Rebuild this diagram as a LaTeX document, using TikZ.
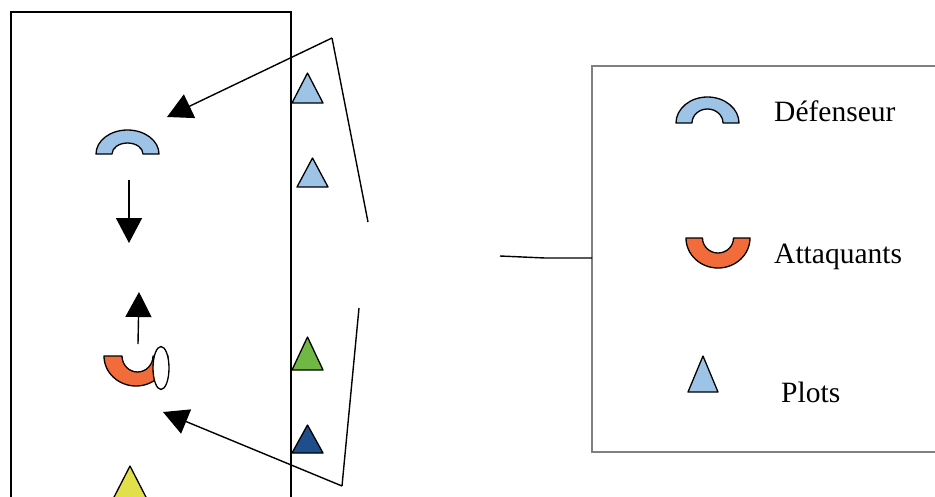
\documentclass[tikz,border=0pt]{standalone}
\usepackage{fontspec}
\setmainfont{Liberation Serif}
\usetikzlibrary{arrows.meta}
\definecolor{lblue}{HTML}{9DC3E6}
\definecolor{orng}{HTML}{F26B3A}
\definecolor{grn}{HTML}{70B844}
\definecolor{dblue}{HTML}{1F4E8C}
\definecolor{yel}{HTML}{E2E04A}
\definecolor{boxgray}{HTML}{808080}
\tikzset{
  shp/.style={draw=black,line width=1.3pt,line join=round},
  conn/.style={draw=black,line width=1.4pt},
  arr/.style={conn,-{Triangle[width=26pt,length=25pt]}},
  lbl/.style={anchor=base west,inner sep=0pt,font=\fontsize{29.5}{34}\selectfont},
}
\begin{document}
\begin{tikzpicture}[x=1pt,y=-1pt]
\useasboundingbox (0,0) rectangle (935,496);
\clip (0,0) rectangle (935,496);
\fill[white] (0,0) rectangle (935,496);
% field
\draw[conn] (11,12) rectangle (291,510);
% legend box
\draw[draw=boxgray,line width=1.4pt] (592,66) rectangle (950,452);
% defender
\path[shp,fill=lblue] (96,154) arc[start angle=180,end angle=360,x radius=31.5,y radius=24] -- (143,154) arc[start angle=0,end angle=-180,x radius=15.5,y radius=11] -- cycle;
% arrows between players
\coordinate (d1) at (129,180);
\coordinate (d2) at (129,243);
\draw[arr] (d1) -- (d2);
\coordinate (u1) at (138,344);
\coordinate (u2) at (139,292);
\draw[arr] (u1) -- (u2);
% attacker
\path[shp,fill=orng] (104,356) arc[start angle=180,end angle=0,x radius=32,y radius=30] -- (153,356) arc[start angle=0,end angle=180,x radius=15.5,y radius=16] -- cycle;
\path[shp,fill=white] (161,368) ellipse[x radius=8,y radius=21.5];
% cones
\path[shp,fill=lblue] (292,103) -- (307.5,73) -- (323,103) -- cycle;
\path[shp,fill=lblue] (297,187) -- (312.5,158) -- (328,187) -- cycle;
\path[shp,fill=grn] (292,370) -- (307.5,337) -- (323,370) -- cycle;
\path[shp,fill=dblue] (292,453) -- (307.5,425) -- (323,453) -- cycle;
\path[shp,fill=yel] (111,503) -- (130,466) -- (149,503) -- cycle;
% bracket connectors
\coordinate (b1) at (332,38);
\coordinate (b2) at (368,222);
\coordinate (t1) at (167,117);
\draw[conn] (b2) -- (b1);
\draw[arr] (b1) -- (t1);
\coordinate (c1) at (359,308);
\coordinate (c2) at (342,486);
\coordinate (t2) at (163,412);
\draw[conn] (c1) -- (c2);
\draw[arr] (c2) -- (t2);
% link to legend
\coordinate (h1) at (500,256);
\coordinate (h2) at (592,258);
\draw[conn] (h1) -- (545,258) -- (h2);
% legend symbols
\path[shp,fill=lblue] (676,123) arc[start angle=180,end angle=360,x radius=31.5,y radius=26] -- (723,123) arc[start angle=0,end angle=-180,x radius=15.5,y radius=14] -- cycle;
\path[shp,fill=orng] (686,238) arc[start angle=180,end angle=0,x radius=32,y radius=30] -- (733.5,238) arc[start angle=0,end angle=180,x radius=15.5,y radius=15] -- cycle;
\path[shp,fill=lblue] (688,392) -- (703,356) -- (718,392) -- cycle;
% legend labels
\node[lbl] (ldef) at (774,121) {Défenseur};
\node[lbl] (latt) at (774,263) {Attaquants};
\node[lbl] (lplo) at (781,402) {Plots};
\end{tikzpicture}
\end{document}
